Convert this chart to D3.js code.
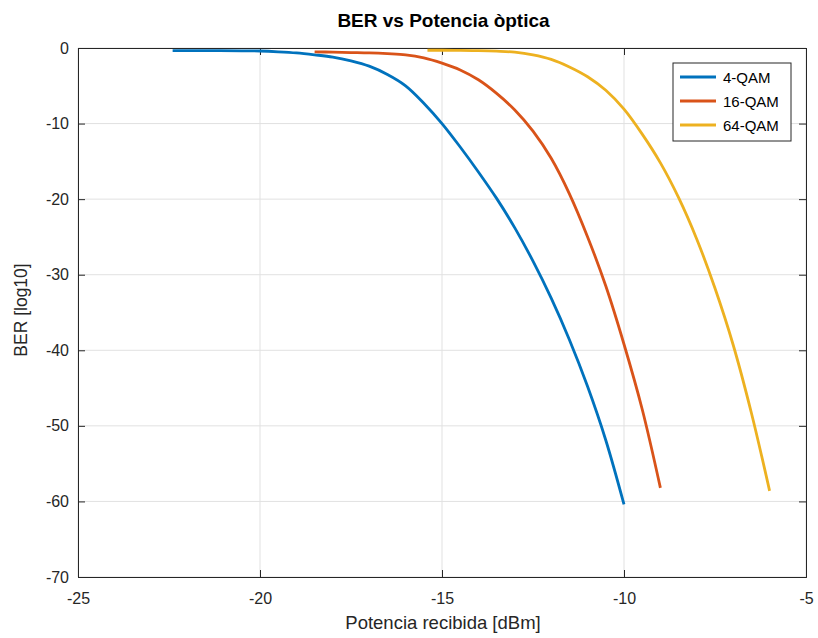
<!DOCTYPE html>
<html><head><meta charset="utf-8">
<script src="https://cdn.jsdelivr.net/npm/d3@7/dist/d3.min.js"></script>
<style>body{margin:0;background:#fff}svg{display:block}text{font-family:"Liberation Sans",Arial,sans-serif}</style>
</head><body><svg id="c" width="818" height="638"></svg>
<script>
const title = "BER vs Potencia òptica";
const xLabel = "Potencia recibida [dBm]";
const yLabel = "BER [log10]";
const seriesNames = ["4-QAM", "16-QAM", "64-QAM"];
const seriesColors = ["#0072BD", "#D95319", "#EDB120"];
const xTicks = [-25, -20, -15, -10, -5];
const yTicks = [0, -10, -20, -30, -40, -50, -60, -70];

const x4 = [-22.4,-21.5,-20.5,-20,-19.5,-19,-18.5,-18,-17.5,-17,-16.5,-16,-15.5,-15,-14.5,-14,-13.5,-13,-12.5,-12,-11.5,-11,-10.5,-10];
const y4 = [-0.35,-0.35,-0.37,-0.4,-0.5,-0.65,-0.9,-1.2,-1.7,-2.4,-3.5,-5.0,-7.3,-10,-13.1,-16.4,-19.9,-23.8,-28.2,-33.1,-38.6,-44.8,-51.9,-60.4];
const x16 = [-18.5,-18,-17.5,-17,-16.5,-16,-15.5,-15,-14.5,-14,-13.5,-13,-12.5,-12,-11.5,-11,-10.5,-10,-9.5,-9];
const y16 = [-0.5,-0.55,-0.6,-0.65,-0.75,-0.9,-1.3,-2.0,-2.9,-4.2,-6.0,-8.2,-11.0,-14.6,-19.3,-25.0,-31.5,-39.2,-47.8,-58.2];
const x64 = [-15.4,-15,-14.5,-14,-13.5,-13,-12.5,-12,-11.5,-11,-10.5,-10,-9.5,-9,-8.5,-8,-7.5,-7,-6.5,-6];
const y64 = [-0.3,-0.3,-0.32,-0.35,-0.42,-0.55,-0.9,-1.5,-2.5,-3.8,-5.6,-8.1,-11.4,-15.2,-19.8,-25.3,-31.8,-39.3,-48.3,-58.6];

const seriesX = [x4, x16, x64];
const seriesY = [y4, y16, y64];

const svg = d3.select("#c");
const L = 78, R = 806, T = 48, B = 577;
const x = d3.scaleLinear().domain([-25, -5]).range([L, R]);
const y = d3.scaleLinear().domain([-70, 0]).range([B, T]);
const axisCol = "#262626";
const fmt = d => String(d);

// grid
const g = svg.append("g");
g.selectAll(".gx").data(xTicks).enter().append("line")
  .attr("x1", d => x(d)).attr("x2", d => x(d)).attr("y1", T).attr("y2", B)
  .attr("stroke", "#e1e1e1").attr("stroke-width", 1);
g.selectAll(".gy").data(yTicks).enter().append("line")
  .attr("y1", d => y(d)).attr("y2", d => y(d)).attr("x1", L).attr("x2", R)
  .attr("stroke", "#e1e1e1").attr("stroke-width", 1);

// axes
const xb = svg.append("g").attr("transform", `translate(0,${B})`)
  .call(d3.axisBottom(x).tickValues(xTicks).tickSize(-7).tickPadding(16).tickFormat(fmt));
const xt = svg.append("g").attr("transform", `translate(0,${T})`)
  .call(d3.axisTop(x).tickValues(xTicks).tickSize(-7).tickFormat(""));
const yl = svg.append("g").attr("transform", `translate(${L},0)`)
  .call(d3.axisLeft(y).tickValues(yTicks).tickSize(-7).tickPadding(9).tickFormat(fmt));
const yr = svg.append("g").attr("transform", `translate(${R},0)`)
  .call(d3.axisRight(y).tickValues(yTicks).tickSize(-7).tickFormat(""));
[xb, xt, yl, yr].forEach(a => {
  a.select(".domain").attr("stroke", axisCol).attr("stroke-width", 1);
  a.selectAll(".tick line").attr("stroke", axisCol);
  a.selectAll("text").attr("fill", axisCol).style("font-size", "16px")
    .style("font-family", '"Liberation Sans",Arial,sans-serif');
});

// lines
const line = d3.line().x(d => x(d[0])).y(d => y(d[1])).curve(d3.curveCatmullRom.alpha(0.5));
seriesX.forEach((xs, i) => {
  const pts = xs.map((v, j) => [v, seriesY[i][j]]);
  svg.append("path").datum(pts).attr("d", line)
    .attr("fill", "none").attr("stroke", seriesColors[i]).attr("stroke-width", 2.8)
    .attr("stroke-linejoin", "round");
});

// labels
svg.append("text").attr("x", 443.5).attr("y", 26.5).attr("text-anchor", "middle")
  .style("font-size", "19px").style("font-weight", "bold").attr("fill", "#000").text(title);
svg.append("text").attr("x", 443).attr("y", 629).attr("text-anchor", "middle")
  .style("font-size", "18.5px").attr("fill", axisCol).text(xLabel);
svg.append("text").attr("transform", "translate(27,310) rotate(-90)").attr("text-anchor", "middle")
  .style("font-size", "17.5px").attr("fill", axisCol).text(yLabel);

// legend
const lg = svg.append("g").attr("transform", "translate(673,63)");
lg.append("rect").attr("width", 118).attr("height", 78).attr("fill", "#fff")
  .attr("stroke", "#262626").attr("stroke-width", 1);
seriesNames.forEach((n, i) => {
  lg.append("line").attr("x1", 7).attr("x2", 43).attr("y1", 14 + i * 24).attr("y2", 14 + i * 24)
    .attr("stroke", seriesColors[i]).attr("stroke-width", 2.8);
  lg.append("text").attr("x", 50).attr("y", 19.5 + i * 24).style("font-size", "15px")
    .attr("fill", "#000").text(n);
});
</script></body></html>
